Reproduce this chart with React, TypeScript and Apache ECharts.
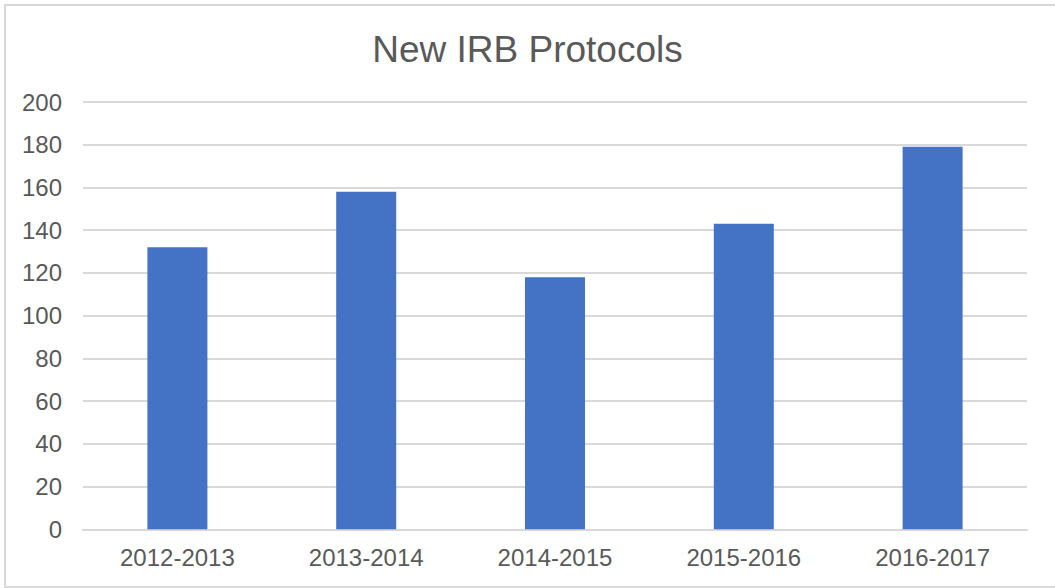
import React, { useEffect, useRef } from "react";
import * as echarts from "echarts";

const categories = ["2012-2013", "2013-2014", "2014-2015", "2015-2016", "2016-2017"];
const protocols = [132, 158, 118, 143, 179];
const titleText = "New IRB Protocols";

export default function App() {
  const ref = useRef<HTMLDivElement>(null);
  useEffect(() => {
    const chart = echarts.init(ref.current!, null, { renderer: "svg" });
    chart.setOption({
      animation: false,
      backgroundColor: "#ffffff",
      title: {
        text: titleText,
        left: "center",
        top: 26,
        textStyle: {
          fontFamily: "Liberation Sans, Arial, sans-serif",
          fontSize: 37,
          fontWeight: "normal",
          color: "#595959",
        },
      },
      graphic: [
        {
          type: "rect",
          shape: { x: 5, y: 5, width: 1070, height: 582 },
          style: { fill: "none", stroke: "#d9d9d9", lineWidth: 2 },
          silent: true,
          z: 100,
        },
      ],
      grid: { left: 83, right: 28, top: 102, bottom: 58.7, containLabel: false },
      xAxis: {
        type: "category",
        data: categories,
        axisTick: { show: false },
        axisLine: { show: true, lineStyle: { color: "#d9d9d9", width: 2 } },
        axisLabel: {
          color: "#595959",
          fontSize: 24,
          fontFamily: "Liberation Sans, Arial, sans-serif",
          margin: 16,
        },
      },
      yAxis: {
        type: "value",
        min: 0,
        max: 200,
        interval: 20,
        axisLine: { show: false },
        axisTick: { show: false },
        splitLine: { lineStyle: { color: "#d9d9d9", width: 2 } },
        axisLabel: {
          color: "#595959",
          fontSize: 24,
          fontFamily: "Liberation Sans, Arial, sans-serif",
          margin: 21,
        },
      },
      series: [
        {
          type: "bar",
          data: protocols,
          barWidth: 60,
          itemStyle: { color: "#4472c4" },
        },
      ],
    });
    return () => chart.dispose();
  }, []);
  return (
    <div
      ref={ref}
      style={{ position: "absolute", left: 0, top: 0, width: 1055, height: 588 }}
    />
  );
}
